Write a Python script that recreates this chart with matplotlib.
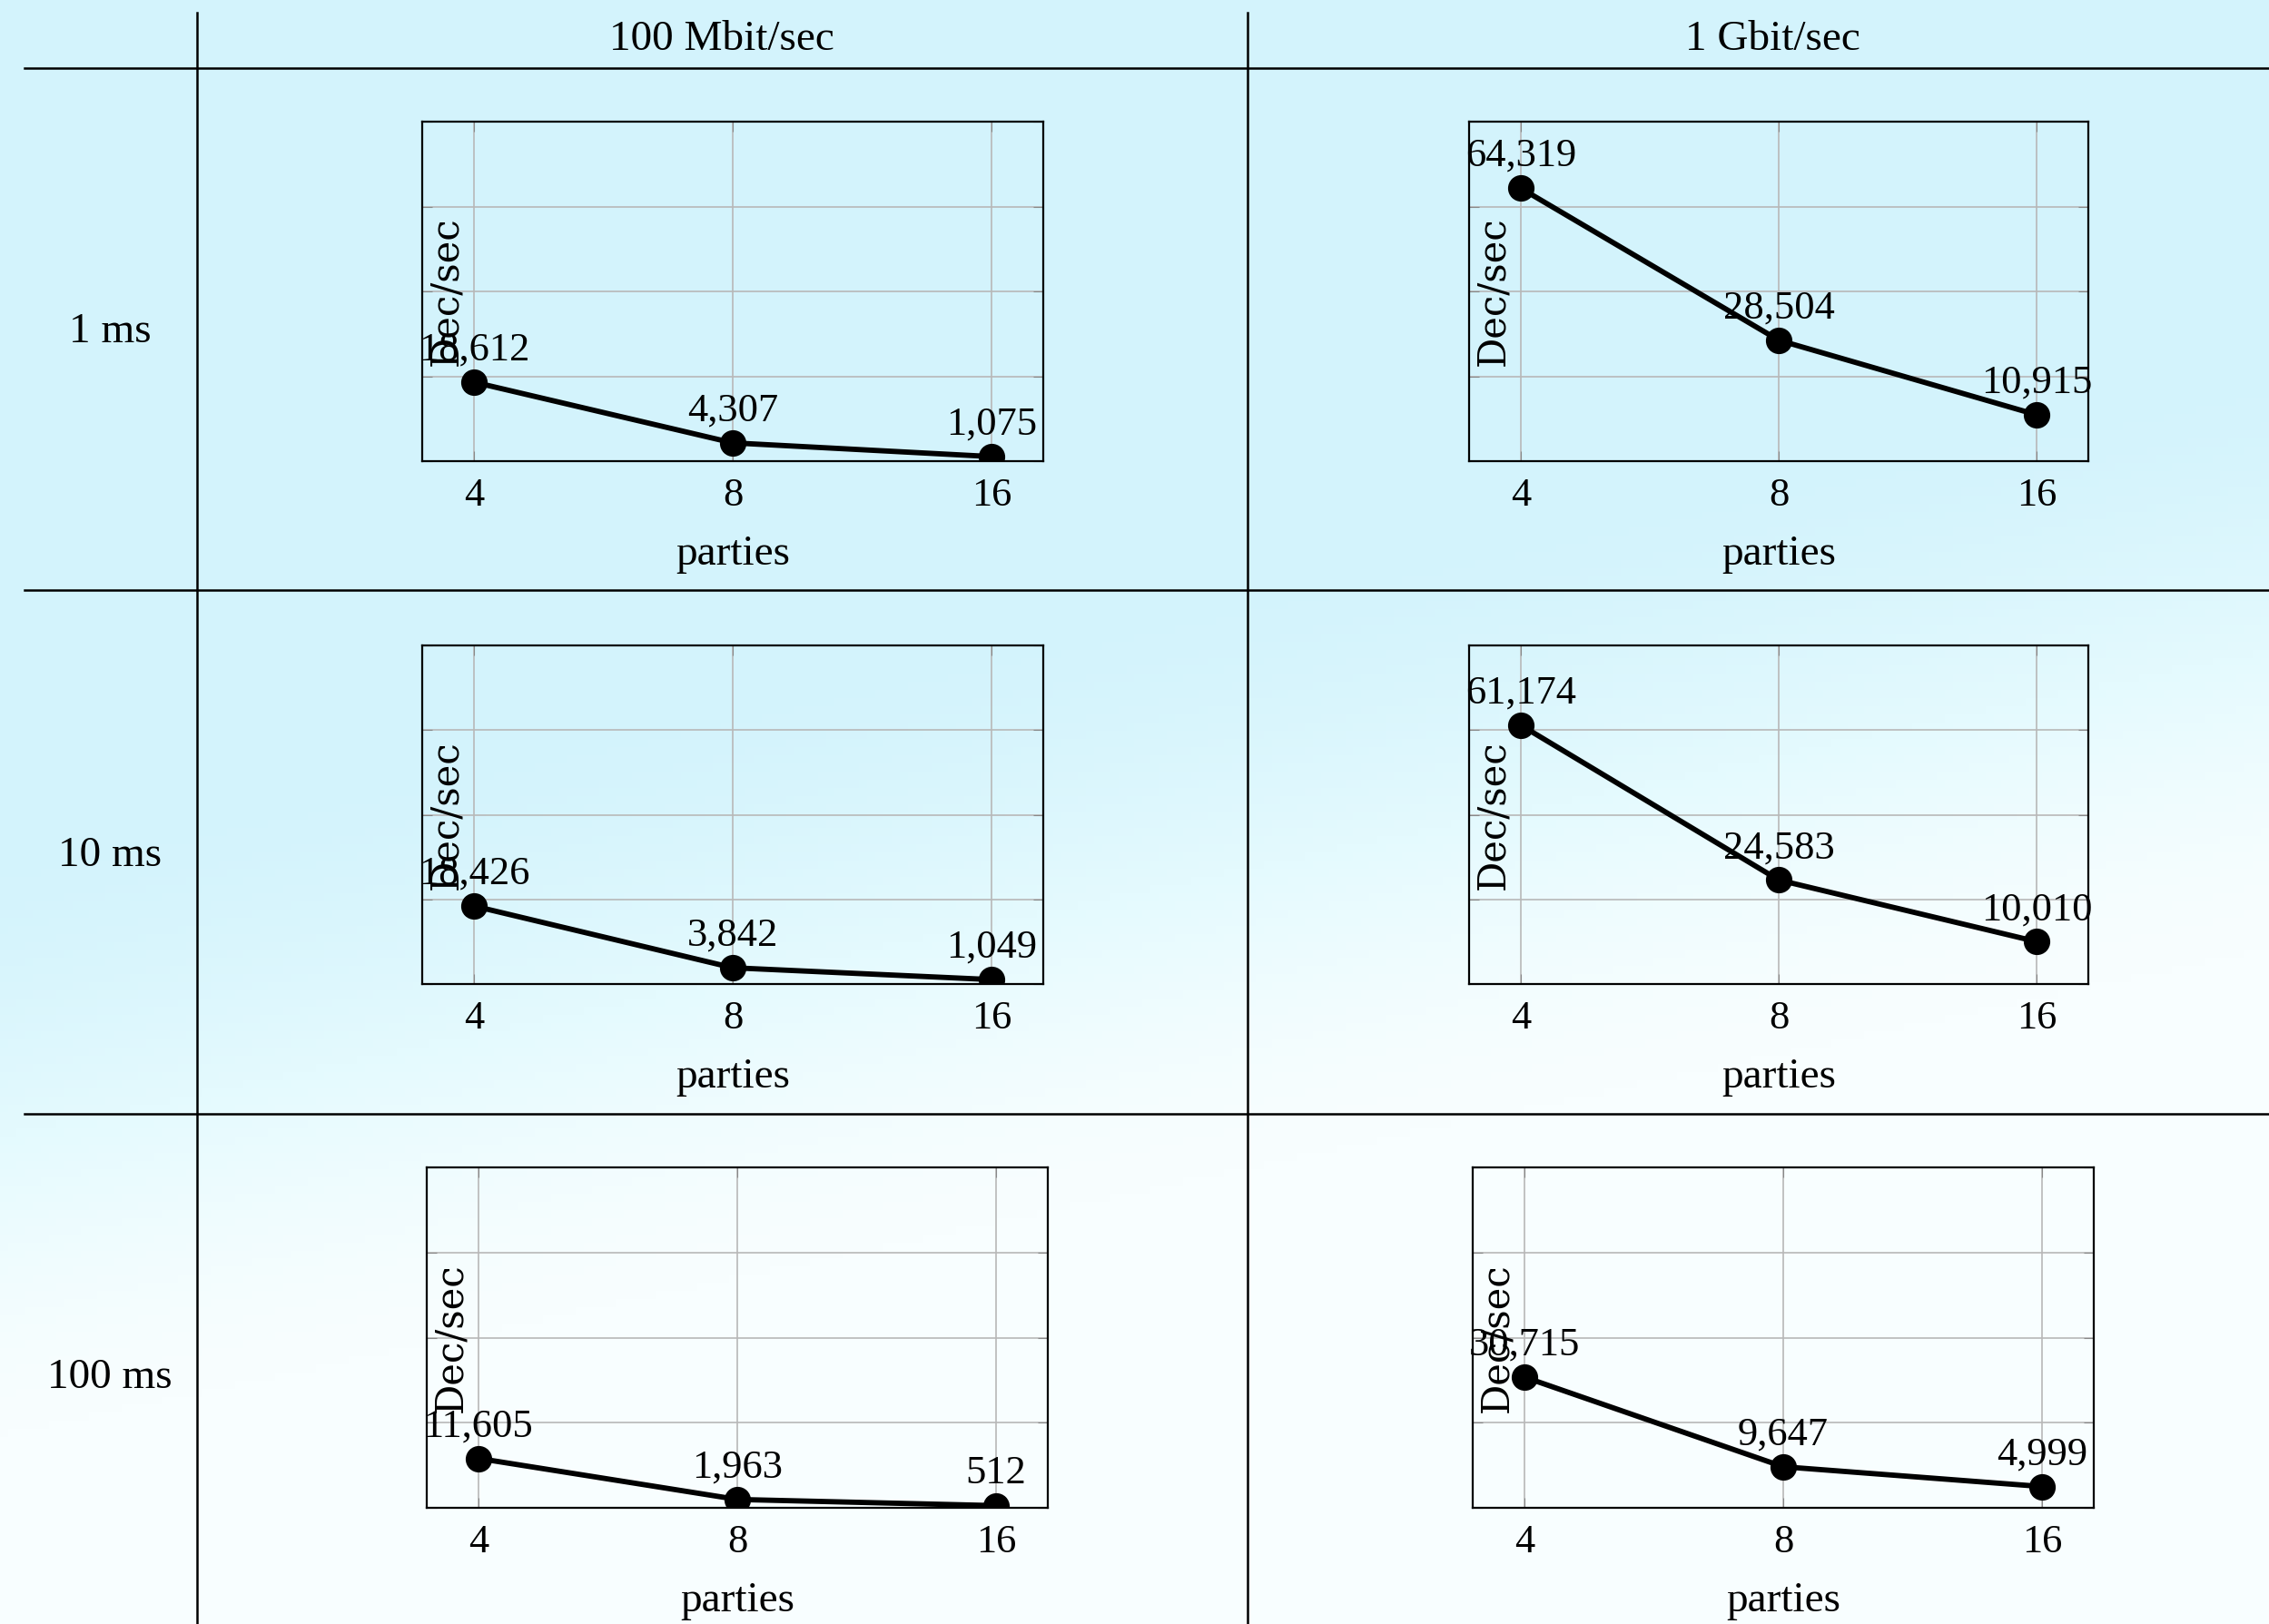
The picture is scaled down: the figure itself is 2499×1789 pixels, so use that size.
import numpy as np
import matplotlib.pyplot as plt
from matplotlib.colors import LinearSegmentedColormap

plt.rcParams['font.family'] = ['Liberation Serif', 'DejaVu Serif']

parties = ['4', '8', '16']
bandwidths = ['100 Mbit/sec', '1 Gbit/sec']
latencies = ['1 ms', '10 ms', '100 ms']

# decryptions per second, [4, 8, 16] parties
dec_100mbit_1ms = [18612, 4307, 1075]
dec_1gbit_1ms = [64319, 28504, 10915]
dec_100mbit_10ms = [18426, 3842, 1049]
dec_1gbit_10ms = [61174, 24583, 10010]
dec_100mbit_100ms = [11605, 1963, 512]
dec_1gbit_100ms = [30715, 9647, 4999]

rows = [[dec_100mbit_1ms, dec_1gbit_1ms],
        [dec_100mbit_10ms, dec_1gbit_10ms],
        [dec_100mbit_100ms, dec_1gbit_100ms]]

W, H = 2499, 1789
fig = plt.figure(figsize=(W / 100, H / 100), dpi=100)

# background wash
bg = fig.add_axes([0, 0, 1, 1], zorder=-10)
yy, xx = np.mgrid[0:1:200j, 0:1:280j]
t = np.clip((yy + 0.3 * xx - 0.5) / 0.4, 0, 1)
t = t * t * (3 - 2 * t)
cmap = LinearSegmentedColormap.from_list('wash', ['#d3f3fc', '#e4fafe', '#f8feff'])
bg.imshow(t, cmap=cmap, extent=[0, W, H, 0], aspect='auto', vmin=0, vmax=1)
bg.set_xlim(0, W)
bg.set_ylim(H, 0)
bg.axis('off')

# table rules
for y in [75, 650, 1227]:
    bg.plot([27, W], [y, y], color='black', lw=1.8)
for x in [217, 1374]:
    bg.plot([x, x], [14, H], color='black', lw=1.8)

for name, x in zip(bandwidths, [795, 1952]):
    bg.text(x, 44, name, ha='center', va='center', fontsize=34)
for name, y in zip(latencies, [366, 943, 1518]):
    bg.text(121, y, name, ha='center', va='center', fontsize=34)

boxes = [[(465, 134, 1149, 508), (1618, 134, 2300, 508)],
         [(465, 711, 1149, 1084), (1618, 711, 2300, 1084)],
         [(470, 1286, 1154, 1661), (1622, 1286, 2306, 1661)]]

xs = np.arange(len(parties))
for r in range(3):
    for c in range(2):
        l, tp, rt, bt = boxes[r][c]
        ax = fig.add_axes([l / W, 1 - bt / H, (rt - l) / W, (bt - tp) / H])
        ax.set_facecolor('none')
        vals = rows[r][c]
        ax.plot(xs, vals, color='black', lw=4.2, marker='o', markersize=20, zorder=3)
        for xi, v in zip(xs, vals):
            ax.annotate(f'{v:,}', (xi, v), xytext=(0, 11), textcoords='offset points',
                        ha='center', va='bottom', fontsize=32, zorder=4)
        ax.set_xlim(-0.2, 2.2)
        ax.set_ylim(0, 80000)
        ax.set_xticks(xs)
        ax.set_xticklabels(parties)
        ax.set_yticks([0, 20000, 40000, 60000, 80000])
        ax.set_yticklabels([])
        ax.grid(True, color='#b8b8b8', lw=1.2)
        ax.tick_params(axis='y', direction='in', length=8, color='#888888', left=True, right=True)
        ax.tick_params(axis='x', direction='in', length=8, color='#888888', top=True, bottom=True,
                       labelsize=32, pad=13)
        for s in ax.spines.values():
            s.set_linewidth(1.6)
        ax.set_xlabel('parties', fontsize=34, labelpad=17)
        ax.text(0.038, 0.5, 'Dec/sec', rotation=90, ha='center', va='center',
                transform=ax.transAxes, fontsize=30, family='DejaVu Serif', zorder=5)

fig.savefig('out.png', dpi=100)
